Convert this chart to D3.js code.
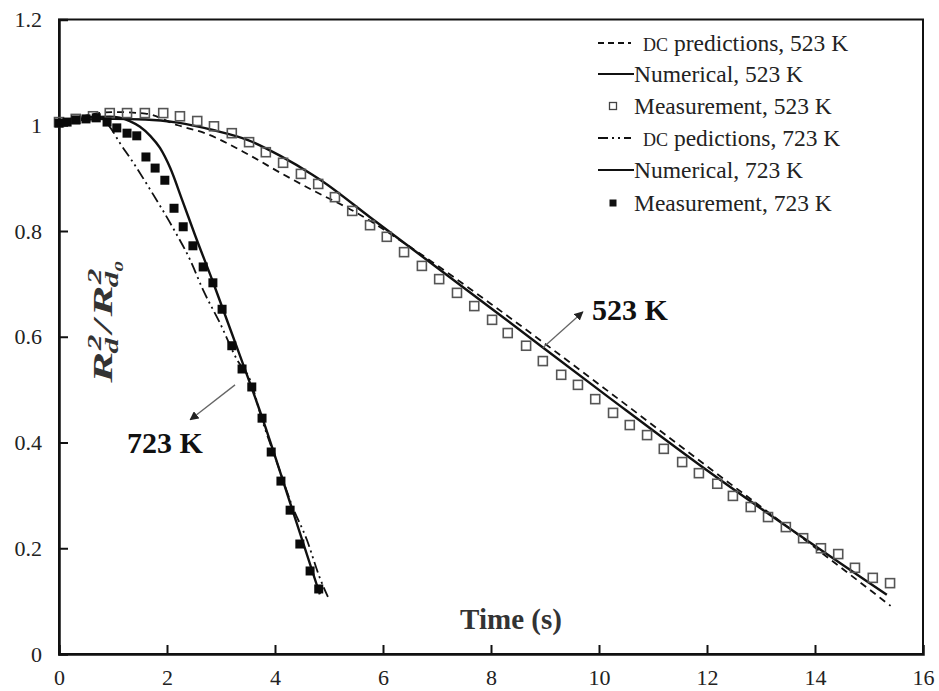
<!DOCTYPE html>
<html>
<head>
<meta charset="utf-8">
<script src="https://cdn.jsdelivr.net/npm/d3@7"></script>
<style>
  body { margin: 0; background: #fff; }
  svg text { font-family: "Liberation Serif", "DejaVu Serif", serif; }
</style>
</head>
<body>
<svg id="chart" width="939" height="691"></svg>
<script>
// ---- data (time in s, R^2/R0^2) ----
const meas523T = [0, 0.31, 0.63, 0.94, 1.26, 1.59, 1.93, 2.24, 2.56, 2.87, 3.20, 3.52, 3.83, 4.15, 4.48, 4.80, 5.11, 5.43, 5.76, 6.07, 6.39, 6.72, 7.04, 7.37, 7.69, 8.02, 8.31, 8.65, 8.96, 9.30, 9.61, 9.93, 10.26, 10.57, 10.89, 11.20, 11.54, 11.85, 12.19, 12.48, 12.81, 13.13, 13.46, 13.78, 14.11, 14.43, 14.74, 15.07, 15.39]
const meas523Y = [1.006, 1.012, 1.017, 1.023, 1.023, 1.023, 1.023, 1.017, 1.008, 0.998, 0.985, 0.968, 0.949, 0.929, 0.908, 0.889, 0.864, 0.838, 0.811, 0.789, 0.760, 0.734, 0.709, 0.683, 0.658, 0.632, 0.607, 0.583, 0.554, 0.528, 0.509, 0.482, 0.456, 0.433, 0.414, 0.388, 0.363, 0.342, 0.322, 0.299, 0.278, 0.259, 0.240, 0.219, 0.200, 0.189, 0.163, 0.144, 0.134]

const num523T = [0, 0.4, 1.0, 1.6, 2.2, 2.85, 3.5, 4.1, 4.7, 4.85, 5.76, 8.0, 10.2, 11.87, 15.33]
const num523Y = [1.0, 1.010, 1.012, 1.011, 1.005, 0.991, 0.972, 0.942, 0.906, 0.896, 0.826, 0.654, 0.484, 0.357, 0.112]

const dc523T = [0, 0.5, 1.0, 1.6, 2.2, 2.7, 3.5, 4.1, 4.7, 5.5, 6.5, 8.0, 10.0, 12.0, 13.5, 15.4]
const dc523Y = [1.0, 1.018, 1.025, 1.022, 1.0, 0.985, 0.945, 0.91, 0.877, 0.835, 0.77, 0.662, 0.51, 0.355, 0.24, 0.091]

const meas723T = [0, 0.15, 0.31, 0.50, 0.69, 0.89, 1.07, 1.26, 1.44, 1.61, 1.78, 1.96, 2.13, 2.30, 2.48, 2.67, 2.85, 3.02, 3.20, 3.39, 3.57, 3.76, 3.93, 4.11, 4.28, 4.46, 4.65, 4.81]
const meas723Y = [1.004, 1.006, 1.010, 1.012, 1.014, 1.006, 0.995, 0.985, 0.980, 0.940, 0.919, 0.896, 0.843, 0.808, 0.772, 0.732, 0.702, 0.652, 0.583, 0.539, 0.505, 0.446, 0.382, 0.327, 0.272, 0.208, 0.157, 0.123]

const num723T = [0, 0.48, 0.94, 1.31, 1.50, 1.69, 1.87, 2.06, 2.28, 2.52, 2.85, 3.28, 3.76, 4.28, 4.83]
const num723Y = [1.0, 1.014, 1.016, 1.008, 0.997, 0.980, 0.957, 0.919, 0.859, 0.792, 0.704, 0.584, 0.448, 0.286, 0.113]

const dc723T = [0, 0.39, 0.72, 0.94, 1.13, 1.37, 1.69, 2.11, 2.43, 2.67, 2.98, 3.30, 3.54, 3.76, 4.04, 4.31, 4.59, 4.83, 4.98]
const dc723Y = [1.0, 1.015, 1.017, 0.997, 0.966, 0.930, 0.878, 0.806, 0.745, 0.688, 0.626, 0.556, 0.518, 0.443, 0.361, 0.282, 0.216, 0.144, 0.108]

const xTicks = [0, 2, 4, 6, 8, 10, 12, 14, 16]
const yTicks = [0, 0.2, 0.4, 0.6, 0.8, 1, 1.2]

const legendLabels = ['DC predictions, 523 K', 'Numerical, 523 K', 'Measurement, 523 K', 'DC pedictions, 723 K', 'Numerical, 723 K', 'Measurement, 723 K']

const svg = d3.select('#chart')
const plotLeft = 59, plotRight = 923, plotTop = 19.5, plotBottom = 654

const x = d3.scaleLinear().domain([0, 16]).range([plotLeft, plotRight])
const y = d3.scaleLinear().domain([0, 1.2]).range([plotBottom, plotTop])

const zip = (a, b) => a.map((v, i) => [v, b[i]])

// frame
svg.append('rect')
    .attr('x', plotLeft).attr('y', plotTop)
    .attr('width', plotRight - plotLeft).attr('height', plotBottom - plotTop)
    .attr('fill', 'none').attr('stroke', '#111').attr('stroke-width', 2)

// axes
const xAxis = svg.append('g')
    .attr('transform', `translate(0,${plotBottom})`)
    .call(d3.axisBottom(x).tickValues(xTicks).tickFormat(d3.format('d')).tickSize(-9).tickPadding(15))
const yAxis = svg.append('g')
    .attr('transform', `translate(${plotLeft},0)`)
    .call(d3.axisLeft(y).tickValues(yTicks).tickFormat(d => d === 0 ? '0' : (d === 1 ? '1' : d3.format('.1f')(d))).tickSize(-9).tickPadding(17))

for (const ax of [xAxis, yAxis]) {
    ax.select('.domain').attr('stroke', '#111').attr('stroke-width', 2.5)
    ax.selectAll('.tick line').attr('stroke', '#111').attr('stroke-width', 2)
    ax.selectAll('.tick text').attr('fill', '#222')
}
xAxis.selectAll('.tick text').attr('font-size', 22).attr('font-family', 'Liberation Serif')
yAxis.selectAll('.tick text').attr('font-size', 22).attr('font-family', 'DejaVu Serif')
// no inside tick at top / ends
yAxis.selectAll('.tick').filter(d => d === 1.2 || d === 0).select('line').remove()
xAxis.selectAll('.tick').filter(d => d === 0 || d === 16).select('line').remove()

// lines
const line = d3.line().x(d => x(d[0])).y(d => y(d[1])).curve(d3.curveMonotoneX)

const series = [
    { pts: zip(dc523T, dc523Y), dash: '7,5', w: 1.8 },
    { pts: zip(num523T, num523Y), dash: null, w: 2.4 },
    { pts: zip(dc723T, dc723Y), dash: '11,4,2,4,2,4', w: 1.8 },
    { pts: zip(num723T, num723Y), dash: null, w: 2.4 }
]
series.forEach(s => {
    svg.append('path')
        .attr('d', line(s.pts))
        .attr('fill', 'none')
        .attr('stroke', '#111')
        .attr('stroke-width', s.w)
        .attr('stroke-dasharray', s.dash)
})

// measurement squares
const sq = 9
svg.append('g').selectAll('rect')
    .data(zip(meas523T, meas523Y))
    .join('rect')
    .attr('x', d => x(d[0]) - sq / 2)
    .attr('y', d => y(d[1]) - sq / 2)
    .attr('width', sq).attr('height', sq)
    .attr('fill', 'none').attr('stroke', '#555').attr('stroke-width', 1.6)

svg.append('g').selectAll('rect')
    .data(zip(meas723T, meas723Y))
    .join('rect')
    .attr('x', d => x(d[0]) - sq / 2)
    .attr('y', d => y(d[1]) - sq / 2)
    .attr('width', sq).attr('height', sq)
    .attr('fill', '#0a0a0a')

// annotations with arrows
svg.append('defs').append('marker')
    .attr('id', 'arr')
    .attr('viewBox', '0 0 10 10')
    .attr('refX', 9).attr('refY', 5)
    .attr('markerWidth', 9).attr('markerHeight', 9)
    .attr('markerUnits', 'userSpaceOnUse')
    .attr('orient', 'auto')
    .append('path').attr('d', 'M0,0 L10,5 L0,10 Z').attr('fill', '#222')

const arrows = [
    { from: [8.96, 0.579], to: [9.70, 0.647] },
    { from: [3.26, 0.509], to: [2.43, 0.443] }
]
arrows.forEach(a => {
    svg.append('line')
        .attr('x1', x(a.from[0])).attr('y1', y(a.from[1]))
        .attr('x2', x(a.to[0])).attr('y2', y(a.to[1]))
        .attr('stroke', '#666').attr('stroke-width', 1.3)
        .attr('marker-end', 'url(#arr)')
})

const notes = [
    { t: 9.87, v: 0.632, label: '523 K' },
    { t: 1.26, v: 0.380, label: '723 K' }
]
notes.forEach(n => {
    svg.append('text')
        .attr('x', x(n.t)).attr('y', y(n.v))
        .attr('font-size', 30).attr('font-weight', 'bold')
        .attr('fill', '#111')
        .text(n.label)
})

// axis titles
svg.append('text')
    .attr('x', 511).attr('y', 629)
    .attr('text-anchor', 'middle')
    .attr('font-size', 29).attr('font-weight', 'bold')
    .attr('fill', '#333')
    .text('Time (s)')

// y label R_d^2 / R_d0^2, stretched along its length to the span it has in the figure
const ylg = svg.append('g')
const yl = ylg.append('text')
    .attr('font-family', 'DejaVu Serif')
    .attr('font-size', 27).attr('font-style', 'italic').attr('font-weight', 'bold')
    .attr('fill', '#333')
yl.append('tspan').text('R')
yl.append('tspan').attr('font-size', 18).attr('dx', 1).attr('dy', -11).text('2')
yl.append('tspan').attr('font-size', 18).attr('dx', -11).attr('dy', 17).text('d')
yl.append('tspan').attr('dx', 3).attr('dy', -6).text('/')
yl.append('tspan').attr('dx', 2).text('R')
yl.append('tspan').attr('font-size', 18).attr('dx', 1).attr('dy', -11).text('2')
yl.append('tspan').attr('font-size', 18).attr('dx', -11).attr('dy', 17).text('d')
yl.append('tspan').attr('font-size', 12).attr('dy', 5).text('0')
const bb = yl.node().getBBox()
const k = 123 / bb.width
ylg.attr('transform', `translate(112,323) rotate(-90) scale(${k},1) translate(${-bb.x - bb.width / 2},0)`)

// legend
const legend = svg.append('g')
const rowY = [43, 74, 106, 138, 170, 203]
const kinds = ['dash', 'solid', 'open', 'dashdot', 'solid', 'filled']
kinds.forEach((kd, i) => {
    const cy = rowY[i]
    if (kd === 'dash' || kd === 'dashdot') {
        legend.append('line')
            .attr('x1', 598).attr('x2', 631).attr('y1', cy).attr('y2', cy)
            .attr('stroke', '#111').attr('stroke-width', 2)
            .attr('stroke-dasharray', kd === 'dash' ? '6,4' : '10,4,2,4,2,4')
    } else if (kd === 'solid') {
        legend.append('line')
            .attr('x1', 598).attr('x2', 634).attr('y1', cy).attr('y2', cy)
            .attr('stroke', '#111').attr('stroke-width', 2)
    } else {
        const s = 7
        legend.append('rect')
            .attr('x', 613 - s / 2).attr('y', cy - s / 2)
            .attr('width', s).attr('height', s)
            .attr('fill', kd === 'open' ? 'none' : '#111')
            .attr('stroke', kd === 'open' ? '#444' : 'none')
            .attr('stroke-width', 1.3)
    }
    const txt = legend.append('text')
        .attr('x', (kd === 'dash' || kd === 'dashdot') ? 643 : 634)
        .attr('y', cy + 8)
        .attr('font-size', 23.5)
        .attr('fill', '#222')
    const label = legendLabels[i]
    if (label.startsWith('DC')) {
        txt.append('tspan').attr('font-size', 18).text('DC')
        txt.append('tspan').text(label.slice(2))
    } else {
        txt.text(label)
    }
})
</script>
</body>
</html>
